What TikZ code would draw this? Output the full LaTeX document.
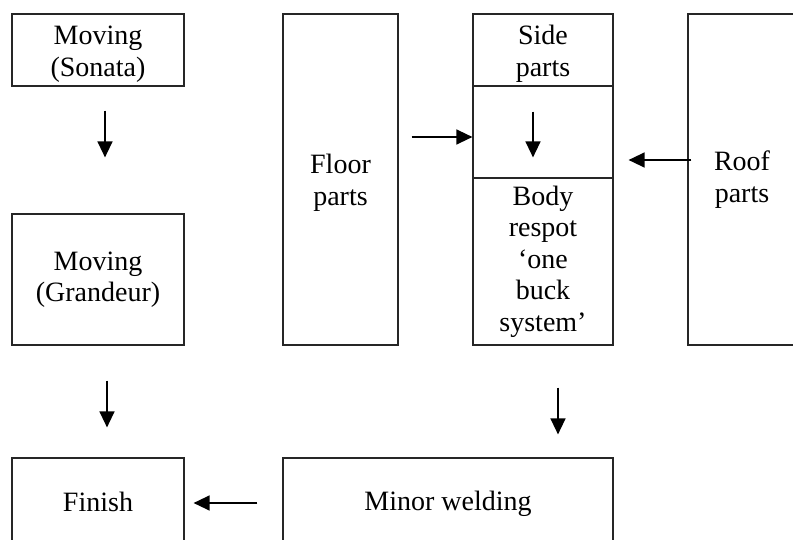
\documentclass[tikz,border=0pt]{standalone}
\usepackage{fontspec}
\setmainfont{Liberation Serif}
\usetikzlibrary{arrows.meta}
\begin{document}
\begin{tikzpicture}[x=1pt,y=-1pt,
  box/.style={draw=black!85, line width=1.2pt, inner sep=0pt, align=center,
    font=\fontsize{28}{31.5}\selectfont},
  arr/.style={line width=1.4pt, -{Triangle[length=16pt,width=15pt]}}]
\clip (0,0) rectangle (793,540);

% first-line strut that lowers a text block a little
\newcommand{\lowr}[1]{\rule{0pt}{#1}}

% left column
\node[box, minimum width=172, minimum height=72]  (sonata)   at (98,50)    {\lowr{27pt}Moving\\(Sonata)};
\node[box, minimum width=172, minimum height=131] (grandeur) at (98,279.5) {Moving\\(Grandeur)};
\node[box, minimum width=172, minimum height=87]  (finish)   at (98,501.5) {Finish};

% floor parts and welding
\node[box, minimum width=115, minimum height=331] (floor) at (340.5,179.5) {\lowr{26pt}Floor\\parts};
\node[box, minimum width=330, minimum height=87]  (minor) at (448,501.5)   {\lowr{25pt}Minor welding};

% side parts / body respot column
\node[box, minimum width=140, minimum height=72]  (side) at (543,50)    {\lowr{27pt}Side\\parts};
\node[box, minimum width=140, minimum height=92]  (mid)  at (543,132)   {};
\node[box, minimum width=140, minimum height=167] (body) at (543,261.5) {Body\\respot\\‘one\\buck\\system’};

% roof parts
\node[box, minimum width=108, minimum height=331] (roof) at (742,179.5) {Roof\\parts};

% connectors
\draw[arr, shorten <=24pt, shorten >=56pt] ([xshift=7pt]sonata.south) -- ([xshift=7pt]grandeur.north);
\draw[arr, shorten <=35pt, shorten >=30pt] ([xshift=9pt]grandeur.south) -- ([xshift=9pt]finish.north);
\draw[arr, shorten <=25pt, shorten >=20pt] ([xshift=-10pt]side.south) -- ([xshift=-10pt]body.north);

\coordinate (bm) at ([xshift=15pt]body.south);
\draw[arr, shorten <=42pt, shorten >=23pt] (bm) -- (bm |- minor.north);

\draw[arr, shorten <=25pt, shorten >=9pt] ([yshift=-1.5pt]minor.west) -- ([yshift=-1.5pt]minor.west -| finish.east);

\coordinate (fm) at ([yshift=-5pt]mid.west);
\draw[arr, shorten <=13pt] (fm -| floor.east) -- (fm);

\coordinate (rm) at ([yshift=-28pt]mid.east);
\draw[arr, shorten <=-4pt, shorten >=15pt] (rm -| roof.west) -- (rm);
\end{tikzpicture}
\end{document}
